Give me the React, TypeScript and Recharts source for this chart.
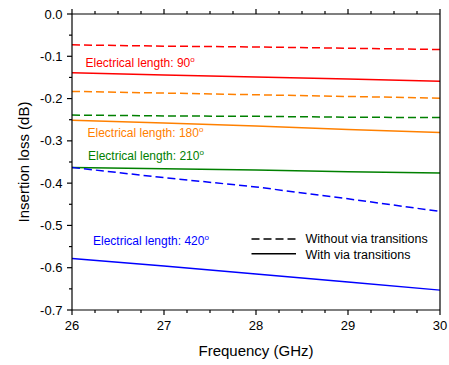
import React from "react"
import { LineChart, Line, XAxis, YAxis, Customized } from "recharts"

// frequency points (GHz)
const freq = [26, 27, 28, 29, 30]

// insertion loss (dB), dashed = without via transitions, solid = with via transitions
const el90Without = [-0.073, -0.076, -0.078, -0.081, -0.084]
const el90With = [-0.139, -0.144, -0.149, -0.154, -0.159]
const el180Without = [-0.183, -0.187, -0.191, -0.195, -0.199]
const el180With = [-0.251, -0.258, -0.265, -0.273, -0.28]
const el210Without = [-0.239, -0.241, -0.242, -0.244, -0.245]
const el210With = [-0.363, -0.366, -0.369, -0.373, -0.376]
const el420Without = [-0.363, -0.387, -0.409, -0.437, -0.467]
const el420With = [-0.578, -0.596, -0.615, -0.634, -0.653]

const xTicks = [26, 26.25, 26.5, 26.75, 27, 27.25, 27.5, 27.75, 28, 28.25, 28.5, 28.75, 29, 29.25, 29.5, 29.75, 30]
const yTicks = [0, -0.05, -0.1, -0.15, -0.2, -0.25, -0.3, -0.35, -0.4, -0.45, -0.5, -0.55, -0.6, -0.65, -0.7]

const data = freq.map((f, i) => ({
  f,
  a: el90Without[i],
  b: el90With[i],
  c: el180Without[i],
  d: el180With[i],
  e: el210Without[i],
  g: el210With[i],
  h: el420Without[i],
  k: el420With[i],
}))

const RED = "#ff0000"
const ORANGE = "#ff8000"
const GREEN = "#008000"
const BLUE = "#0000ff"
const FONT = "'Liberation Sans', Arial, sans-serif"
const DASH = "8 4"

const isMajorX = (v: number) => Math.abs(v - Math.round(v)) < 1e-6
const isMajorY = (v: number) => Math.abs(v * 10 - Math.round(v * 10)) < 1e-6

const makeTick = (side: "bottom" | "top" | "left" | "right") => (props: any) => {
  const { x, y, payload } = props
  const v = payload.value
  const major = side === "bottom" || side === "top" ? isMajorX(v) : isMajorY(v)
  const len = major ? 5 : 3
  if (side === "bottom") {
    return (
      <g>
        <line x1={x} y1={y} x2={x} y2={y + len} stroke="#000" strokeWidth={1.2} />
        {major && (
          <text x={x} y={y + 19.5} textAnchor="middle" fontSize={13} fontFamily={FONT} fill="#000">
            {v}
          </text>
        )}
      </g>
    )
  }
  if (side === "top") {
    return <line x1={x} y1={y} x2={x} y2={y - len} stroke="#000" strokeWidth={1.2} />
  }
  if (side === "left") {
    return (
      <g>
        <line x1={x} y1={y} x2={x - len} y2={y} stroke="#000" strokeWidth={1.2} />
        {major && (
          <text x={x - 9.5} y={y + 4.6} textAnchor="end" fontSize={13} fontFamily={FONT} fill="#000">
            {v === 0 ? "0.0" : v.toFixed(1)}
          </text>
        )}
      </g>
    )
  }
  return <line x1={x} y1={y} x2={x + len} y2={y} stroke="#000" strokeWidth={1.2} />
}

const Label = ({ x, y, color, deg }: { x: number; y: number; color: string; deg: string }) => (
  <text x={x} y={y} fontSize={12} fontFamily={FONT} fill={color}>
    Electrical length: {deg}
    <tspan dy={-5} fontSize={8}>o</tspan>
  </text>
)

const Overlay = () => (
  <g>
    <Label x={85.5} y={66.5} color={RED} deg="90" />
    <Label x={87.5} y={136.5} color={ORANGE} deg="180" />
    <Label x={88} y={160} color={GREEN} deg="210" />
    <Label x={93} y={245} color={BLUE} deg="420" />
    <line x1={251.5} y1={239} x2={296} y2={239} stroke="#000" strokeWidth={1.5} strokeDasharray={DASH} />
    <line x1={251.5} y1={253.7} x2={296} y2={253.7} stroke="#000" strokeWidth={1.5} />
    <text x={305.5} y={243.3} fontSize={12.5} fontFamily={FONT} fill="#000">Without via transitions</text>
    <text x={305.5} y={258.5} fontSize={12.5} fontFamily={FONT} fill="#000">With via transitions</text>
    <text x={256} y={356} textAnchor="middle" fontSize={15} fontFamily={FONT} fill="#000">Frequency (GHz)</text>
    <text x={29} y={162} textAnchor="middle" fontSize={15} fontFamily={FONT} fill="#000" transform="rotate(-90 29 162)">
      Insertion loss (dB)
    </text>
  </g>
)

const series = [
  { key: "a", color: RED, dashed: true },
  { key: "b", color: RED, dashed: false },
  { key: "c", color: ORANGE, dashed: true },
  { key: "d", color: ORANGE, dashed: false },
  { key: "e", color: GREEN, dashed: true },
  { key: "g", color: GREEN, dashed: false },
  { key: "h", color: BLUE, dashed: true },
  { key: "k", color: BLUE, dashed: false },
]

export default function App() {
  return (
    <div style={{ position: "absolute", left: 0, top: 0, width: 449, height: 365, background: "#fff" }}>
      <LineChart width={449} height={365} data={data} margin={{ top: 0, right: 0, bottom: 0, left: 0 }}>
        <XAxis
          xAxisId="bottom"
          type="number"
          dataKey="f"
          domain={[26, 30]}
          ticks={xTicks}
          interval={0}
          height={55}
          tickSize={0}
          tickMargin={0}
          tickLine={false}
          tick={makeTick("bottom")}
          axisLine={{ stroke: "#000", strokeWidth: 1.2 }}
        />
        <XAxis
          xAxisId="top"
          orientation="top"
          type="number"
          dataKey="f"
          domain={[26, 30]}
          ticks={xTicks}
          interval={0}
          height={14}
          tickSize={0}
          tickMargin={0}
          tickLine={false}
          tick={makeTick("top")}
          axisLine={{ stroke: "#000", strokeWidth: 1.2 }}
        />
        <YAxis
          yAxisId="left"
          type="number"
          domain={[-0.7, 0]}
          ticks={yTicks}
          interval={0}
          width={72}
          tickSize={0}
          tickMargin={0}
          tickLine={false}
          tick={makeTick("left")}
          axisLine={{ stroke: "#000", strokeWidth: 1.2 }}
        />
        <YAxis
          yAxisId="right"
          orientation="right"
          type="number"
          domain={[-0.7, 0]}
          ticks={yTicks}
          interval={0}
          width={9}
          tickSize={0}
          tickMargin={0}
          tickLine={false}
          tick={makeTick("right")}
          axisLine={{ stroke: "#000", strokeWidth: 1.2 }}
        />
        {series.map((s) => (
          <Line
            key={s.key}
            xAxisId="bottom"
            yAxisId="left"
            type="linear"
            dataKey={s.key}
            stroke={s.color}
            strokeWidth={1.5}
            strokeDasharray={s.dashed ? DASH : undefined}
            dot={false}
            activeDot={false}
            isAnimationActive={false}
          />
        ))}
        <Customized component={Overlay} />
      </LineChart>
    </div>
  )
}
